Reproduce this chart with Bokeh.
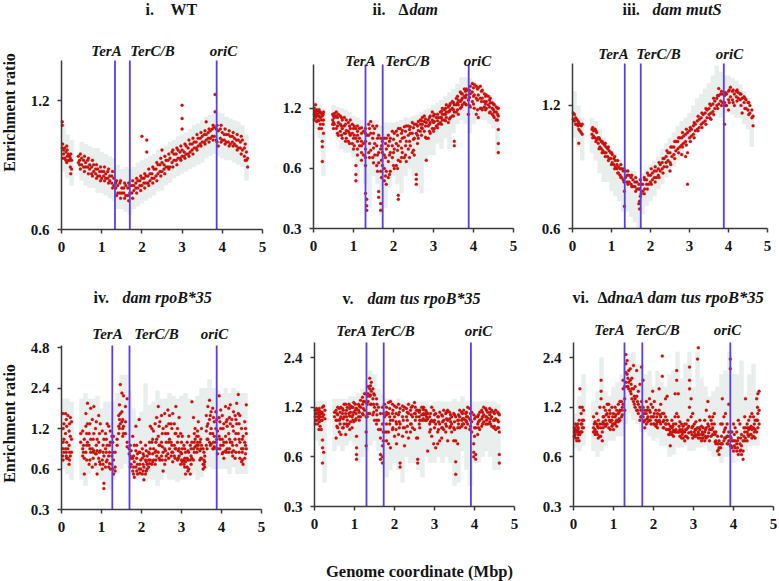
from math import log2
from bokeh.plotting import figure
from bokeh.layouts import row, column
from bokeh.models import Range1d, FixedTicker, Label, PrintfTickFormatter
from bokeh.embed import file_html
from bokeh.resources import INLINE

gray_x = [.05,.15,.25,.5,.6,.7,.8,.9,1.0,1.1,1.2,1.3,1.4,1.5,1.6,1.7,1.8,1.9,2.0,2.1,2.2,2.3,2.4,2.5,2.6,2.7,2.8,2.9,3.0,3.1,3.2,3.3,3.4,3.5,3.6,3.7,3.8,3.9,4.0,4.1,4.2,4.3,4.4,4.5,4.6]

gray_hi_1 = [1.06,1.0,.97,.96,.95,.94,.93,.93,.91,.9,.89,.88,.85,.83,.84,.83,.84,.86,.87,.88,.89,.9,.92,.93,.94,.96,.97,.99,1.0,1.01,1.03,1.05,1.06,1.08,1.1,1.11,1.12,1.13,1.12,1.1,1.09,1.08,1.07,1.05,1.0]
gray_lo_1 = [.82,.79,.76,.78,.76,.75,.75,.73,.73,.72,.71,.7,.67,.67,.66,.65,.67,.68,.69,.7,.71,.72,.74,.74,.76,.77,.79,.8,.81,.82,.83,.84,.85,.86,.88,.89,.9,.89,.88,.87,.87,.86,.85,.84,.78]
gray_hi_2 = [1.3,1.25,1.2,1.25,1.22,1.2,1.18,1.15,1.1,1.08,1.05,1.02,1.05,1.05,1.0,.98,1.02,1.02,1.02,1.03,1.05,1.08,1.08,1.1,1.12,1.15,1.18,1.2,1.25,1.28,1.32,1.38,1.45,1.5,1.6,1.72,1.72,1.7,1.65,1.6,1.55,1.45,1.4,1.35,1.25]
gray_lo_2 = [.95,.85,.55,.95,.85,.75,.72,.72,.68,.5,.62,.5,.38,.55,.5,.36,.38,.48,.55,.5,.45,.55,.6,.55,.55,.45,.65,.7,.7,.8,.75,.85,.75,.9,1.0,1.05,1.0,.9,1.0,1.05,1.05,1.05,1.0,.95,.7]
gray_hi_3 = [1.3,1.2,1.12,1.12,1.1,1.05,1.0,.97,.94,.92,.88,.86,.84,.83,.83,.8,.82,.84,.86,.88,.9,.94,.97,1.0,1.03,1.07,1.1,1.12,1.15,1.2,1.25,1.28,1.32,1.36,1.42,1.5,1.45,1.42,1.42,1.4,1.38,1.35,1.3,1.25,1.15]
gray_lo_3 = [1.0,.95,.88,.92,.88,.82,.78,.78,.74,.72,.7,.66,.66,.64,.62,.6,.65,.68,.7,.72,.75,.77,.8,.82,.85,.88,.9,.95,.97,1.0,1.05,1.08,1.1,1.14,1.17,1.15,1.12,1.15,1.15,1.14,1.12,1.12,1.08,1.05,.95]
gray_hi_4 = [2.0,2.0,1.9,2.0,2.2,2.0,2.0,2.1,1.7,1.9,1.9,1.9,2.2,3.0,3.0,2.3,1.7,1.4,1.6,2.6,1.8,1.9,2.3,2.0,2.0,2.2,2.1,2.0,2.1,2.2,2.0,1.9,2.1,2.4,2.4,2.8,2.4,2.3,2.2,2.4,2.2,2.4,2.3,2.2,2.2]
gray_lo_4 = [.6,.55,.5,.5,.45,.55,.6,.55,.5,.45,.42,.5,.55,.6,.65,.62,.55,.5,.5,.48,.5,.5,.45,.5,.55,.5,.5,.48,.5,.5,.55,.55,.5,.52,.6,.62,.6,.6,.6,.6,.55,.62,.55,.55,.55]
gray_hi_5 = [1.3,1.3,1.3,1.35,1.35,1.35,1.35,1.4,1.4,1.45,1.55,1.75,2.0,1.9,1.55,1.45,1.35,1.35,1.3,1.35,1.3,1.3,1.3,1.3,1.3,1.3,1.3,1.25,1.3,1.3,1.3,1.3,1.3,1.35,1.3,1.4,1.3,1.3,1.3,1.3,1.3,1.3,1.3,1.3,1.25]
gray_lo_5 = [.75,.7,.42,.65,.7,.65,.7,.75,.7,.55,.6,.65,.7,.75,.65,.55,.45,.5,.55,.5,.42,.6,.55,.55,.5,.45,.6,.55,.55,.6,.55,.6,.55,.4,.42,.65,.5,.4,.55,.55,.6,.65,.6,.5,.5]
gray_hi_6 = [1.1,1.4,1.9,1.3,1.5,2.4,1.5,1.4,1.6,1.7,1.9,2.2,2.4,2.6,2.2,2.2,1.9,2.0,1.6,2.0,1.7,1.6,1.9,2.0,2.6,1.8,2.2,2.6,1.6,2.6,1.8,1.6,1.4,1.5,1.6,1.9,2.0,2.6,1.9,1.9,2.3,1.4,1.9,2.2,1.5]
gray_lo_6 = [.68,.65,.7,.65,.6,.65,.7,.75,.75,.8,.8,.95,1.1,1.0,.95,.85,.85,.8,.75,.78,.7,.7,.6,.62,.68,.68,.7,.65,.65,.68,.68,.7,.65,.6,.6,.55,.6,.6,.55,.6,.6,.65,.7,.7,.7]

# red points: each row is [genome coordinate, ratio, ratio, ...]
red_1 = [[.02,1.07,1.05,.93],[.05,.92,.9],[.08,.93,.88],[.11,.91,.87],[.14,.92,.89],[.17,.9,.87],[.2,.89,.87],[.22,.88,.84],[.25,.87,.83],
[.42,.89,.86],[.45,.87,.85],[.5,.88,.85],[.55,.87,.84],[.6,.86,.84],[.65,.87,.84],[.7,.85,.83],[.75,.84,.81],[.8,.85,.82],[.85,.83,.81],[.9,.83,.8],[.95,.82,.8],[1.0,.82,.79],[1.05,.82,.8],[1.1,.81,.79],[1.15,.82,.79],[1.2,.8,.78],[1.25,.8,.77],[1.3,.79,.76],[1.35,.77,.75],[1.4,.76,.73],[1.45,.77,.73],[1.5,.75,.73],[1.55,.75,.73],[1.6,.76,.72],[1.65,.75,.72],[1.7,.76,.73],[1.75,.76,.73],[1.8,.76,.74],[1.85,.77,.75],[1.9,.78,.75],[1.95,.78,.76],[2.0,.99,.79,.76],[2.05,.79,.77],[2.1,.8,.77],[2.12,.97,.91],[2.15,.8,.77],[2.2,.81,.78],[2.25,.81,.79],[2.3,.83,.79],[2.35,.83,.8],[2.4,.85,.81],[2.45,.85,.82],[2.5,.92,.86,.82],[2.55,.85,.83],[2.6,.87,.84],[2.65,.87,.84],[2.7,.88,.84],[2.75,.91,.86],[2.8,.9,.87],[2.85,.9,.87],[2.9,.92,.88],[2.95,.91,.88],[3.0,1.17,1.09,1.03,.92,.89],[3.05,.91,.89],[3.1,.94,.9],[3.15,.93,.9],[3.2,.95,.91],[3.25,.95,.92],[3.3,.96,.93],[3.35,.96,.93],[3.4,.98,.94],[3.45,.98,.95],[3.5,.99,.96],[3.55,1.0,.96],[3.6,1.07,1.0,.97],[3.65,1.01,.98],[3.7,1.02,.98],[3.75,1.03,.99],[3.8,1.04,.99],[3.82,1.24,1.13],[3.85,1.03,.97],[3.9,1.02,.94],[3.95,1.03,.98],[4.0,1.01,.97],[4.05,1.0,.97],[4.1,1.0,.96],[4.15,1.0,.96],[4.2,.99,.95],[4.25,.99,.96],[4.3,.98,.95],[4.35,.97,.94],[4.4,.97,.93],[4.45,.96,.93],[4.5,.97,.92],[4.55,.93,.89],[4.6,.91,.87],[4.63,.88,.84]]
more_1 = [[.03,.95,.88],[.13,.94,.86],[.23,.9,.81],[.47,.9,.83],[.57,.89,.82],[.67,.88,.81],[.77,.87,.8],[.87,.85,.79],[.97,.84,.78],[1.07,.84,.78],[1.17,.83,.77],[1.27,.82,.75],[1.37,.78,.72],[1.47,.78,.71],[1.57,.77,.71],[1.67,.77,.7],[1.77,.78,.71],[1.87,.79,.73],[1.97,.8,.74],[2.07,.81,.75],[2.17,.83,.76],[2.27,.84,.77],[2.37,.86,.78],[2.47,.88,.8],[2.57,.89,.81],[2.67,.9,.83],[2.77,.92,.84],[2.87,.93,.85],[2.97,.94,.87],[3.07,.95,.88],[3.17,.97,.89],[3.27,.98,.9],[3.37,1.0,.92],[3.47,1.01,.94],[3.57,1.02,.95],[3.67,1.03,.96],[3.77,1.05,.97],[3.87,1.05,.96],[3.97,1.05,.96],[4.07,1.03,.95],[4.17,1.02,.94],[4.27,1.01,.94],[4.37,1.0,.92],[4.47,.99,.9],[4.57,.95,.87]]

red_2 = [[.02,1.2,1.12,1.05],[.05,1.25,1.15,1.08],[.08,1.18,1.12,1.03],[.11,1.17,1.1,1.05],[.14,1.18,1.1,.95],[.17,1.15,1.08,1.0],[.2,1.13,1.05,.95],[.22,1.1,.82,.77,.65],[.25,1.15,1.05,.9],
[.48,1.12,1.05,1.0],[.52,1.13,1.08,1.0],[.57,1.15,1.1,.95],[.62,1.12,1.02,.88],[.67,1.1,1.0,.92],[.72,1.05,.95,.85],[.77,1.08,.98,.9],[.82,1.05,.93,.85],[.87,1.02,.92,.82],[.92,1.05,.95,.88],[.97,1.0,.9,.8],[1.02,.98,.88,.78],[1.06,.95,.85,.62,.56,.52],[1.1,.98,.88,.75],[1.15,.95,.85,.78],[1.2,.96,.82,.72],[1.25,.92,.8,.7],[1.3,.9,.82,.68,.45],[1.33,.88,.42,.39,.37],[1.38,1.0,.88,.72],[1.43,1.03,.9,.74],[1.48,.98,.85,.68],[1.53,.95,.8,.7],[1.58,.98,.78,.62],[1.63,.88,.72,.64,.46,.43],[1.68,.85,.75,.58,.4,.37],[1.72,.82,.72,.62],[1.77,.85,.7,.6,.52],[1.82,.85,.75,.58,.5],[1.87,.88,.78,.65,.54],[1.92,.85,.72,.58],[1.97,.92,.78,.68],[2.02,.9,.75,.6],[2.07,.92,.8,.62],[2.12,.95,.78,.66,.44,.42],[2.17,.95,.82,.65],[2.22,.93,.85,.72],[2.27,.97,.86,.68],[2.32,.98,.82,.65],[2.37,.98,.88,.75],[2.42,.97,.9,.78],[2.47,1.02,.9,.72],[2.52,1.0,.85,.7],[2.57,1.0,.9,.56,.53,.5],[2.62,1.03,.93,.85],[2.67,1.05,1.0,.92],[2.72,1.08,1.0,.95],[2.77,1.1,1.03,.92],[2.82,1.02,.85,.66],[2.87,1.05,.98,.85],[2.92,1.1,1.02,.9],[2.97,1.15,1.05,.95],[3.02,1.12,1.03,.95],[3.07,1.08,.98],[3.12,1.08,1.0],[3.17,1.15,1.08,1.02],[3.22,1.2,1.12,1.05],[3.27,1.18,1.12,1.05],[3.32,1.25,1.15,1.08],[3.37,1.22,1.15,1.02],[3.42,1.27,1.18,1.08],[3.47,1.3,1.2,1.1],[3.52,1.25,1.15,.82,.78],[3.57,1.35,1.25,1.15],[3.62,1.32,1.25,1.12],[3.67,1.45,1.3,1.2],[3.72,1.42,1.35,1.25],[3.77,1.5,1.38,1.28],[3.82,1.5,1.4,1.25],[3.87,1.48,1.32,1.12],[3.92,1.55,1.42,1.22],[3.97,1.6,1.45,1.3],[4.02,1.58,1.4,1.2],[4.07,1.55,1.35,1.12],[4.12,1.52,1.4,1.08],[4.17,1.55,1.35,1.2],[4.22,1.48,1.35,1.18],[4.27,1.42,1.3,1.22],[4.32,1.4,1.3,1.2],[4.37,1.38,1.25],[4.42,1.35,1.28,1.15],[4.47,1.28,1.2,1.12],[4.52,1.25,1.15,1.08],[4.57,1.22,1.15,1.05],[4.62,1.2,1.1,.94,.8,.72]]
more_2 = [[.04,1.16,1.1],[.13,1.14,1.04],[.24,1.12,1.0],[.5,1.1,1.02,.95],[.6,1.08,.98,.9],[.7,1.08,.98,.88],[.8,1.0,.9,.82],[.9,.98,.9,.8],[1.0,.95,.85,.75],[1.1,.92,.82,.7],[1.2,.9,.78,.66],[1.3,.95,.75,.62],[1.4,.95,.8,.68],[1.5,.9,.76,.64],[1.6,.85,.7,.58],[1.7,.78,.66,.54],[1.8,.8,.68,.55],[1.9,.82,.7,.56],[2.0,.84,.72,.62],[2.1,.88,.74,.6],[2.2,.9,.76,.68],[2.3,.92,.78,.7],[2.4,.94,.82,.68],[2.5,.96,.84,.74],[2.6,.98,.88,.8],[2.7,1.04,.96,.88],[2.8,1.06,.98,.86],[2.9,1.08,1.0,.92],[3.0,1.1,1.02,.92],[3.1,1.12,1.04,.96],[3.2,1.16,1.08,1.0],[3.3,1.2,1.12,1.04],[3.4,1.24,1.16,1.06],[3.5,1.28,1.18,1.1],[3.6,1.38,1.28,1.18],[3.7,1.42,1.32,1.22],[3.8,1.46,1.36,1.26],[3.9,1.48,1.36,1.24],[4.0,1.52,1.38,1.26],[4.1,1.5,1.32,1.18],[4.2,1.46,1.3,1.2],[4.3,1.38,1.26,1.18],[4.4,1.32,1.22,1.14],[4.5,1.26,1.18,1.1],[4.6,1.2,1.12,1.05]]

red_3 = [[.02,1.15,1.11],[.05,1.14,1.1],[.08,1.12,1.08],[.11,1.11,1.08],[.14,1.1,1.07],[.16,1.09,1.05,.97],[.19,1.08,1.04],[.22,1.07,1.03],[.25,1.08,1.02],
[.5,1.05,1.02],[.54,1.04,1.01],[.58,1.05,1.0],[.62,1.03,.99],[.66,1.0,.97],[.7,.99,.95],[.74,.98,.94],[.78,.97,.93],[.82,.96,.92],[.86,.95,.92],[.9,.94,.9],[.94,.93,.89],[.98,.92,.89],[1.02,.91,.87],[1.06,.89,.86],[1.1,.88,.85],[1.14,.86,.84],[1.18,.85,.82],[1.22,.84,.81],[1.26,.84,.8],[1.3,.83,.79],[1.33,.74,.68],[1.36,.83,.8],[1.4,.81,.78],[1.45,.81,.78],[1.5,.8,.77],[1.55,.79,.76],[1.6,.78,.76],[1.65,.78,.75],[1.7,.77,.75,.69],[1.72,.75,.7,.67],[1.76,.77,.73],[1.8,.77,.74],[1.85,.79,.75],[1.9,.79,.77],[1.95,.81,.77],[2.0,.81,.78],[2.05,.82,.79],[2.1,.83,.8],[2.15,.83,.8],[2.2,.84,.81],[2.25,.86,.83],[2.3,.87,.84],[2.35,.89,.85],[2.4,.9,.87],[2.45,.92,.88],[2.5,.92,.87,.83],[2.55,.95,.9],[2.6,.95,.91],[2.65,.98,.93],[2.7,.98,.94],[2.75,1.0,.95],[2.8,1.0,.96,.91],[2.85,1.01,.97],[2.9,1.02,.98,.9],[2.95,1.03,.92,.77],[3.0,1.04,1.0],[3.05,1.05,1.01],[3.1,1.07,1.02],[3.15,1.08,1.04],[3.2,1.1,1.05],[3.25,1.11,1.06],[3.3,1.12,1.08],[3.35,1.14,1.09],[3.4,1.15,1.1],[3.45,1.17,1.12],[3.5,1.18,1.14],[3.55,1.2,1.15,1.11],[3.6,1.21,1.16],[3.65,1.23,1.18],[3.7,1.25,1.2],[3.75,1.32,1.27,1.21],[3.8,1.28,1.23],[3.85,1.28,1.22],[3.9,1.27,1.22,1.08],[3.95,1.28,1.2],[4.0,1.3,1.24,1.17],[4.05,1.33,1.26],[4.1,1.3,1.24],[4.15,1.28,1.2],[4.2,1.3,1.26],[4.25,1.29,1.25],[4.3,1.28,1.24],[4.35,1.25,1.15],[4.4,1.26,1.22],[4.45,1.24,1.18],[4.5,1.22,1.17],[4.55,1.2,1.15],[4.6,1.17,1.12],[4.63,1.13,1.07]]
more_3 = [[.52,1.06,1.0],[.6,1.04,.98],[.68,1.0,.94],[.76,.98,.92],[.84,.97,.9],[.92,.95,.88],[1.0,.92,.86],[1.08,.9,.84],[1.16,.88,.82],[1.24,.86,.8],[1.32,.84,.78],[1.42,.83,.77],[1.52,.81,.76],[1.62,.8,.74],[1.74,.79,.72],[1.84,.8,.73],[1.92,.82,.75],[2.02,.84,.77],[2.12,.85,.78],[2.22,.87,.8],[2.32,.89,.82],[2.42,.93,.85],[2.52,.95,.86],[2.62,.98,.89],[2.72,1.0,.92],[2.82,1.03,.95],[2.92,1.05,.96],[3.02,1.06,.98],[3.12,1.09,1.0],[3.22,1.13,1.04],[3.32,1.15,1.06],[3.42,1.18,1.08],[3.52,1.21,1.12],[3.62,1.25,1.14],[3.72,1.27,1.18],[3.82,1.3,1.2],[3.92,1.29,1.2],[4.02,1.31,1.22],[4.12,1.31,1.22],[4.22,1.31,1.23],[4.32,1.28,1.2],[4.42,1.25,1.18],[4.52,1.22,1.14]]

red_4 = [[.03,1.55,.85,.75],[.06,1.3,1.0,.8],[.1,1.55,1.1,.85],[.13,1.25,.95,.72],[.16,1.5,.85,.72],[.19,1.15,.9,.65],[.22,1.45,1.05,.75],[.25,1.35,1.0,.8],
[.48,1.1,.95],[.53,1.15,.85,.75],[.57,1.0,.72,.55],[.61,1.55,1.25,.8],[.65,1.85,1.3,.95],[.69,1.1,.9,.65],[.73,1.7,1.0,.8],[.77,1.4,.85,.62],[.81,1.75,1.1,.82],[.85,1.2,.78,.65],[.89,1.0,.82,.55],[.93,1.5,.95,.72],[.97,1.3,.82,.65],[1.02,1.15,.7,.6],[1.06,1.0,.75,.47,.43],[1.1,1.1,.85,.62],[1.14,1.3,.9,.7],[1.18,1.25,.75,.62],[1.22,1.15,.95,.6],[1.26,1.05,.75,.65],[1.3,1.05,.7,.55],[1.34,.8,.62,.58],[1.39,1.0,.9],[1.43,1.5,1.25,1.1],[1.47,2.55,1.55,1.3],[1.51,2.2,1.6,1.35],[1.55,2.1,1.25,1.1],[1.6,1.75,1.35,1.1],[1.64,2.0,.95,.88],[1.69,.85,.78],[1.74,.82,.72,.65],[1.78,1.05,.72,.58],[1.82,.9,.68,.52],[1.86,1.25,.82,.62],[1.9,.78,.65,.55],[1.94,1.4,.8,.6],[1.98,.95,.7,.6],[2.02,.85,.72,.55],[2.06,.75,.62,.5],[2.1,.9,.7,.55],[2.14,.75,.65,.6],[2.18,.8,.7,.62],[2.22,1.25,.85,.7],[2.26,1.2,.95,.65],[2.3,1.15,.85,.7],[2.34,1.3,.8,.65],[2.38,1.45,1.0,.75],[2.42,1.75,1.05,.8],[2.46,1.35,.9,.7],[2.5,1.5,.95,.75],[2.54,1.2,.8,.58],[2.58,1.55,.85,.65],[2.62,1.25,.95,.75],[2.66,1.65,1.1,.78],[2.7,1.5,1.0,.85],[2.74,1.3,.95,.75],[2.78,1.55,.8,.68],[2.82,1.3,.9,.75],[2.86,1.75,1.1,.85],[2.9,1.2,.95,.7],[2.94,1.45,.85,.75],[2.98,1.1,.8,.65],[3.02,1.05,.85,.68],[3.06,.9,.7,.65],[3.1,.8,.68,.55],[3.14,.95,.72,.62],[3.18,1.05,.8,.6],[3.22,.9,.7,.55],[3.26,1.9,.95,.72],[3.3,1.45,.85,.7],[3.34,1.2,1.0,.88],[3.38,1.05,.9,.8],[3.42,1.35,1.05,.9],[3.46,.95,.82,.7],[3.5,1.2,.9,.72],[3.54,.85,.65,.6],[3.58,.75,.68,.62],[3.62,1.5,1.15,.9],[3.66,1.75,1.3,1.0],[3.7,1.95,1.4,.95],[3.74,1.6,1.2,.92],[3.78,1.7,1.1,.85],[3.82,1.35,1.05,.88],[3.86,1.6,1.2,.95],[3.9,1.15,.85,.78],[3.94,2.1,1.45,1.05],[3.98,1.65,1.2,.9],[4.02,1.5,1.0,.78],[4.06,1.3,.95,.72],[4.1,1.75,1.05,.82],[4.14,1.4,1.25,.85],[4.18,1.7,1.1,.8],[4.22,1.8,1.3,.95],[4.26,1.4,.95,.8],[4.3,1.6,1.15,.82],[4.34,1.5,1.0,.72],[4.38,1.85,1.3,.9],[4.42,2.15,1.55,1.1],[4.46,1.5,.95,.72],[4.5,1.2,.85,.68],[4.54,1.05,.85,.65],[4.58,1.35,.95,.72],[4.62,1.8,1.1,.85]]
more_4 = [[.04,1.2,.95,.7],[.12,1.4,.8,.75],[.2,1.3,.8,.7],[.55,.9,.8],[.63,1.1,.9,.7],[.71,1.3,.85,.7],[.79,1.0,.8,.72],[.87,1.35,.9,.78],[.95,1.1,.8,.68],[1.04,.9,.8,.65],[1.12,1.0,.8,.68],[1.2,.9,.8,.66],[1.28,.95,.8,.6],[1.45,1.8,1.4,1.2],[1.53,1.4,1.2,1.05],[1.72,.9,.75,.62],[1.8,.75,.62,.55],[1.88,.9,.72,.58],[1.96,.8,.65,.56],[2.04,.78,.65,.58],[2.12,.82,.68,.58],[2.2,.95,.78,.66],[2.28,1.0,.78,.68],[2.36,.95,.82,.7],[2.44,1.25,.9,.72],[2.52,1.1,.88,.7],[2.6,1.1,.82,.7],[2.68,1.3,.95,.72],[2.76,1.2,.9,.8],[2.84,1.1,.85,.72],[2.92,1.05,.82,.72],[3.0,.95,.78,.7],[3.08,.85,.72,.62],[3.16,.82,.7,.58],[3.24,.85,.75,.65],[3.32,1.1,.95,.8],[3.4,1.15,.95,.85],[3.48,1.0,.85,.72],[3.56,.8,.7,.65],[3.64,1.25,1.0,.85],[3.72,1.5,1.1,.9],[3.8,1.45,.95,.85],[3.88,1.4,1.0,.85],[3.96,1.35,1.0,.85],[4.04,1.2,.9,.8],[4.12,1.35,.95,.8],[4.2,1.45,1.0,.85],[4.28,1.25,.9,.75],[4.36,1.4,1.1,.8],[4.44,1.3,1.0,.8],[4.52,1.0,.8,.7],[4.6,1.2,.9,.78]]

red_5 = [[.02,1.15,1.05,.95],[.05,1.18,1.1,1.0],[.08,1.15,1.05,.95],[.11,1.12,1.02,.88],[.14,1.13,1.05,.92],[.17,1.1,1.0,.88],[.2,1.2,1.05,.76,.68,.55],[.23,1.22,1.08,.64],[.26,1.15,1.02],
[.5,1.12,1.05],[.54,1.15,1.0,.78],[.58,1.2,1.08,.9],[.62,1.18,1.0,.85],[.66,1.2,1.05,.82],[.7,1.18,1.1,.9],[.74,1.25,1.05,.95],[.78,1.25,1.1,.82],[.82,1.2,1.0,.92],[.86,1.25,1.1,.95],[.9,1.22,1.12,.98],[.94,1.2,1.05,.9],[.98,1.28,1.12,.98],[1.02,1.25,1.15,1.0],[1.05,1.18,.8,.68,.62,.58],[1.1,1.25,1.15,1.05],[1.15,1.32,1.2,1.05],[1.2,1.38,1.25,1.1],[1.25,1.45,1.3,1.15],[1.29,1.45,1.28,1.05,.85,.7],[1.34,1.6,1.45,1.3,1.1],[1.38,1.8,1.55,1.4,1.1],[1.42,1.7,1.5,1.25],[1.46,1.55,1.35,1.08],[1.5,1.42,1.2,1.0],[1.55,1.35,1.15,.95],[1.6,1.2,1.0,.88],[1.65,1.1,.88,.78,.62,.58],[1.7,1.2,.95,.7,.6,.55],[1.75,1.25,1.05,.85],[1.8,1.2,1.08,.75],[1.85,1.28,1.1,.85,.72],[1.9,1.3,1.0,.68],[1.95,1.25,1.1,.88],[2.0,1.22,1.05,.8],[2.05,1.2,.95,.72],[2.1,1.25,1.08,.82],[2.14,1.18,.95,.55,.52],[2.2,1.22,1.05,.8],[2.25,1.2,.9,.7],[2.3,1.18,1.05,.85],[2.35,1.25,1.1,.78],[2.4,1.15,.95,.85],[2.45,1.22,1.05,.9],[2.5,1.28,1.1,.88],[2.55,1.15,1.05,.78],[2.58,1.15,.78,.58,.55],[2.63,1.15,1.0,.9],[2.68,1.2,1.08,1.0],[2.73,1.2,1.1,1.0],[2.78,1.15,1.08,1.0],[2.83,1.1,1.02,.65],[2.88,1.05,.95,.85],[2.93,1.2,1.0,.8],[2.98,1.15,.98,.72],[3.03,1.1,.95,.68],[3.08,1.05,.85,.72],[3.13,1.12,.95,.75],[3.18,1.08,.9,.78],[3.23,1.15,1.0,.88],[3.28,1.1,.95,.85],[3.33,1.15,1.0,.75],[3.38,1.12,1.02,.9],[3.43,1.05,.95,.85],[3.48,1.1,.9,.75],[3.53,1.05,.75,.56,.47],[3.58,1.0,.9,.72],[3.63,1.15,1.05,.9],[3.68,1.12,1.0,.92],[3.73,1.15,1.02,.95],[3.78,1.1,1.0,.9],[3.83,1.2,1.05,.95],[3.88,1.18,1.02,.88],[3.93,1.12,.98,.85],[3.98,1.08,.72,.64,.6],[4.03,1.05,.9,.58,.62],[4.08,1.05,.95,.82],[4.13,1.12,1.0,.88],[4.18,1.15,1.02,.92],[4.23,1.2,1.08,.98],[4.28,1.18,1.05,.95],[4.33,1.12,1.03,.95],[4.38,1.18,1.08,.98],[4.43,1.15,1.05,.92],[4.48,1.12,1.0,.9],[4.53,1.15,1.02,.88],[4.58,1.12,1.0,.9],[4.62,1.08,.85,.62,.55]]
more_5 = [[.03,1.1,1.0],[.12,1.18,1.08,.98],[.19,1.12,1.0],[.56,1.1,1.0,.92],[.64,1.12,1.02,.95],[.72,1.15,1.02,.9],[.8,1.15,1.05,.95],[.88,1.18,1.06,.88],[.96,1.2,1.08,1.0],[1.04,1.18,1.1,1.02],[1.12,1.22,1.12,1.0],[1.22,1.3,1.18,1.08],[1.32,1.4,1.25,1.05],[1.4,1.62,1.42,1.25],[1.48,1.45,1.25,1.12],[1.56,1.25,1.08,1.0],[1.72,1.1,.85,.75],[1.8,1.12,.95,.85],[1.88,1.18,1.05,.95],[1.96,1.15,1.0,.9],[2.04,1.1,.98,.88],[2.12,1.12,.98,.9],[2.22,1.15,1.0,.9],[2.32,1.12,1.0,.92],[2.42,1.2,1.08,.95],[2.52,1.2,1.1,1.0],[2.62,1.12,1.05,.95],[2.72,1.16,1.08,1.02],[2.8,1.12,1.05,1.0],[2.9,1.1,.98,.88],[3.0,1.08,1.0,.9],[3.1,1.05,.98,.88],[3.2,1.06,.98,.9],[3.3,1.12,1.02,.92],[3.4,1.08,.98,.92],[3.5,1.08,.98,.88],[3.6,1.08,1.0,.95],[3.7,1.1,1.02,.95],[3.8,1.12,1.05,.98],[3.9,1.1,1.0,.92],[4.0,1.02,.9,.8],[4.1,1.08,.98,.9],[4.2,1.12,1.05,.95],[4.3,1.15,1.05,1.0],[4.4,1.12,1.02,.95],[4.5,1.1,1.0,.92],[4.6,1.1,.98,.9]]

red_6 = [[.02,.9,.85,.8],[.05,.95,.87,.78],[.08,.92,.85,.75],[.11,.95,.88,.78],[.14,1.0,.85,.75],[.16,1.55,1.2,.82],[.19,1.1,.95,.85],[.22,1.2,1.0,.9],[.25,1.15,1.0,.9],
[.5,1.05,.9,.85],[.54,.98,.88,.82],[.58,1.1,.95,.85],[.62,1.0,.9,.78],[.66,1.2,.95,.8],[.69,1.75,1.5,1.35],[.72,.95,.85,.75],[.76,1.2,1.05,.95],[.8,1.15,1.0,.92],[.84,1.25,1.1,.95],[.88,1.25,1.05,.9],[.92,1.1,.98,.88],[.96,1.2,1.0,.92],[1.0,1.1,.95,.88],[1.04,1.2,1.05,.95],[1.08,1.15,1.0,.92],[1.12,1.25,1.1,.98],[1.16,1.3,1.15,1.0],[1.2,1.3,1.15,1.05],[1.24,1.75,1.55,1.25],[1.28,1.6,1.35,1.15],[1.31,2.5,2.2,1.95,1.7],[1.34,2.3,1.9,1.6],[1.38,2.0,1.7,1.55],[1.42,2.05,1.75,1.5],[1.46,1.8,1.55,1.35],[1.5,2.15,1.55,1.3],[1.54,1.6,1.35,1.2],[1.58,2.0,1.4,1.15],[1.62,1.5,1.25,1.1],[1.66,1.65,1.2,1.0],[1.7,2.1,1.3,1.05],[1.74,1.75,1.2,1.05],[1.78,1.15,1.0,.9],[1.82,1.3,1.1,.95],[1.86,1.2,1.05,.98],[1.9,1.35,1.15,1.0],[1.94,1.25,1.05,.95],[1.98,1.5,1.2,1.05],[2.02,1.3,1.1,.95],[2.06,1.15,1.0,.92],[2.1,1.1,.98,.9],[2.14,1.55,1.15,1.0],[2.18,1.25,1.05,.95],[2.22,2.45,1.85,1.1],[2.26,1.1,1.0,.9],[2.3,1.35,1.05,.95],[2.34,1.4,1.0,.88],[2.38,.95,.88,.82],[2.42,.92,.85,.7],[2.46,1.0,.9,.82],[2.5,.95,.87,.8],[2.54,1.45,1.05,.85],[2.58,2.0,1.75,1.1,.85],[2.62,1.45,1.05,.85],[2.66,.98,.88,.8],[2.7,.95,.85,.78],[2.74,.92,.85,.78],[2.78,.95,.85,.75],[2.82,.95,.88,.8],[2.86,1.0,.9,.78],[2.9,2.1,1.75,1.55,1.2],[2.94,1.35,1.05,.85],[2.98,1.1,.92,.78],[3.02,.95,.85,.8],[3.06,.98,.88,.8],[3.1,2.35,.9,.82],[3.12,2.75,.85,.78],[3.16,1.0,.88,.78],[3.2,.92,.82,.75],[3.24,.9,.82,.78],[3.28,1.0,.85,.75],[3.32,1.15,.9,.78],[3.36,1.3,.95,.8],[3.4,1.05,.88,.75],[3.44,1.0,.88,.8],[3.48,1.05,.9,.82],[3.52,1.1,.95,.85],[3.56,.85,.75,.72],[3.6,.8,.72,.65],[3.64,.75,.68,.62],[3.68,.95,.72,.68],[3.72,1.35,.95,.72],[3.76,1.05,.85,.75],[3.8,1.1,.9,.78],[3.84,.95,.8,.72],[3.88,1.25,.85,.75],[3.92,2.35,2.05,.8,.7],[3.96,.85,.75,.68],[4.0,.95,.75,.65],[4.04,.9,.75,.68],[4.08,.85,.72,.65],[4.12,1.0,.78,.62],[4.16,.95,.72,.65],[4.2,.82,.7,.62],[4.24,.75,.65,.58],[4.28,1.05,.85,.75],[4.3,1.35,.9,.78],[4.34,.95,.85,.75],[4.38,1.0,.88,.8],[4.42,1.05,.9,.82],[4.46,1.1,.88,.78],[4.5,1.05,.9,.8],[4.54,1.0,.88,.78],[4.58,1.35,1.0,.85],[4.61,1.45,1.1,.9],[4.64,1.5,1.15,.95]]
more_6 = [[.04,.88,.82],[.12,.9,.82],[.21,.95,.85],[.52,.95,.85],[.6,.92,.82],[.68,.9,.8],[.74,1.05,.98,.9],[.82,1.08,.95],[.9,1.15,1.0],[.98,1.05,.95],[1.06,1.08,.98],[1.14,1.12,1.02],[1.22,1.2,1.08],[1.36,1.8,1.6],[1.44,1.65,1.45],[1.52,1.4,1.25],[1.6,1.3,1.15],[1.68,1.15,1.05],[1.76,1.1,.98],[1.84,1.15,1.02],[1.92,1.12,1.0],[2.0,1.05,.95],[2.08,1.05,.95],[2.16,1.08,.98],[2.24,.98,.9],[2.32,.95,.88],[2.4,.88,.82],[2.48,.92,.85],[2.56,.95,.88],[2.64,.92,.85],[2.72,.88,.82],[2.8,.88,.8],[2.88,.92,.84],[2.96,.9,.82],[3.04,.88,.82],[3.14,.9,.82],[3.22,.85,.78],[3.3,.88,.8],[3.38,.92,.84],[3.46,.95,.88],[3.54,.82,.74],[3.62,.72,.66],[3.7,.8,.72],[3.78,.88,.78],[3.86,.8,.72],[3.94,.78,.7],[4.02,.82,.7],[4.1,.75,.68],[4.18,.78,.66],[4.26,.9,.8],[4.36,.9,.82],[4.44,.92,.82],[4.52,.95,.85],[4.6,1.2,1.0]]

x_ticks = [0,1,2,3,4,5]
BLUE = "#5a3cf0"
RED = "#c8110f"
GRAY = "#e8eeec"
AXIS = "#3a3a3a"
SERIF = "Liberation Serif"
MARKER_NAMES = ["TerA", "TerC/B", "oriC"]


def lab(panel_, text, wx, wy, size=15, style="bold italic", align="center", angle=0.0):
    p, fx0, fy1 = panel_
    p.add_layout(Label(x=wx - fx0, y=fy1 - wy, x_units="screen", y_units="screen", text=text,
                       text_font=SERIF, text_font_size=f"{size}px", text_font_style=style,
                       text_align=align, text_baseline="middle", text_color="#151515",
                       angle=angle, angle_units="rad"))


def panel(fx0, fx1, fy0, fy1, l, r, t, b, y_start, y_end, y_ticks, red, more, lo, hi, marks, mark_labels, mark_y):
    # the plot region fills the whole cell, so that the texts around the axes are not clipped
    px_x = (r - l) / 5.0
    px_y = (b - t) / log2(y_end / y_start)
    xr = Range1d(-(l - fx0) / px_x, 5 + (fx1 - r) / px_x)
    yr = Range1d(y_start * 2 ** (-(fy1 - b) / px_y), y_start * 2 ** ((b - fy0) / px_y))
    p = figure(width=fx1 - fx0, height=fy1 - fy0, output_backend="svg", toolbar_location=None,
               x_range=xr, y_range=yr, y_axis_type="log",
               min_border_left=0, min_border_right=0, min_border_top=0, min_border_bottom=0,
               background_fill_color="white", border_fill_color="white", outline_line_color=None)
    p.grid.visible = False
    p.xaxis.fixed_location = y_start
    p.yaxis.fixed_location = 0
    p.xaxis.bounds = (0, 5)
    p.yaxis.bounds = (y_start, y_end)
    for ax in (p.xaxis, p.yaxis):
        ax.axis_line_color = AXIS
        ax.axis_line_width = 1.5
        ax.major_tick_line_color = AXIS
        ax.major_tick_line_width = 1.5
        ax.major_tick_in = 0
        ax.major_tick_out = 4
        ax.minor_tick_line_color = None
        ax.major_label_text_font = SERIF
        ax.major_label_text_font_style = "bold"
        ax.major_label_text_font_size = "15px"
        ax.major_label_text_color = "#151515"
        ax.major_label_standoff = 8
    p.xaxis.ticker = FixedTicker(ticks=x_ticks)
    p.yaxis.ticker = FixedTicker(ticks=y_ticks)
    p.yaxis.formatter = PrintfTickFormatter(format="%.1f")

    p.segment(x0=gray_x, x1=gray_x, y0=lo, y1=hi, line_color=GRAY, line_width=4.5)
    rows = red + more
    xs = [row_[0] for row_ in rows for _ in row_[1:]]
    ys = [v for row_ in rows for v in row_[1:]]
    p.scatter(x=xs, y=ys, size=3.0, marker="circle", fill_color=RED, line_color=RED, line_width=0.3)
    p.segment(x0=marks, x1=marks, y0=[y_start] * 3, y1=[y_end] * 3, line_color=BLUE, line_width=1.8)
    cell = (p, fx0, fy1)
    for name, wx in zip(MARKER_NAMES, mark_labels):
        lab(cell, name, wx, mark_y)
    return p, cell


p1, c1 = panel(0, 272, 0, 283, 61, 262, 60, 229, .6, 1.488, [.6, 1.2], red_1, more_1, gray_lo_1, gray_hi_1, [1.33, 1.70, 3.86], [106, 152, 223], 50)
p2, c2 = panel(272, 530, 0, 283, 313, 513, 64, 228, .3, 1.99, [.3, .6, 1.2], red_2, more_2, gray_lo_2, gray_hi_2, [1.30, 1.73, 3.88], [360, 407, 477], 60)
p3, c3 = panel(530, 779, 0, 283, 572, 767, 63, 228, .6, 1.52, [.6, 1.2], red_3, more_3, gray_lo_3, gray_hi_3, [1.34, 1.75, 3.88], [613, 658, 729], 53)
p4, c4 = panel(0, 272, 283, 581, 61, 261, 345, 509, .3, 4.97, [.3, .6, 1.2, 2.4, 4.8], red_4, more_4, gray_lo_4, gray_hi_4, [1.27, 1.70, 3.88], [107, 156, 214], 333)
p5, c5 = panel(272, 530, 283, 581, 314, 514, 342, 506, .3, 2.96, [.3, .6, 1.2, 2.4], red_5, more_5, gray_lo_5, gray_hi_5, [1.30, 1.73, 3.91], [351, 392, 478], 330)
p6, c6 = panel(530, 779, 283, 581, 573, 773, 342, 506, .3, 2.96, [.3, .6, 1.2, 2.4], red_6, more_6, gray_lo_6, gray_hi_6, [1.275, 1.72, 3.92], [609, 657, 727], 329)

lab(c1, "i.", 145, 9, 16, "bold", "left")
lab(c1, "WT", 170, 9, 16, "bold", "left")
lab(c2, "ii.", 372, 9, 16, "bold", "left")
lab(c2, "\u0394", 398, 9, 16, "bold", "left")
lab(c2, "dam", 409, 9, 16, "bold italic", "left")
lab(c3, "iii.", 622, 9, 16, "bold", "left")
lab(c3, "dam mutS", 652, 9, 16.5, "bold italic", "left")
lab(c4, "iv.", 93, 297, 16, "bold", "left")
lab(c4, "dam rpoB*35", 122, 297, 16, "bold italic", "left")
lab(c5, "v.", 342, 298, 16, "bold", "left")
lab(c5, "dam tus rpoB*35", 367, 298, 16, "bold italic", "left")
lab(c6, "vi.", 572, 297, 16, "bold", "left")
lab(c6, "\u0394", 597, 297, 16, "bold", "left")
lab(c6, "dnaA dam tus rpoB*35", 607, 297, 16.5, "bold italic", "left")
lab(c1, "Enrichment ratio", 9, 112, 16, "bold", "center", 1.5708)
lab(c4, "Enrichment ratio", 9, 423, 16, "bold", "center", 1.5708)
lab(c5, "Genome coordinate (Mbp)", 419, 571, 16.5, "bold", "center")

page = column(row(p1, p2, p3, spacing=0), row(p4, p5, p6, spacing=0), spacing=0)
open("out.html", "w").write(file_html(page, INLINE))
